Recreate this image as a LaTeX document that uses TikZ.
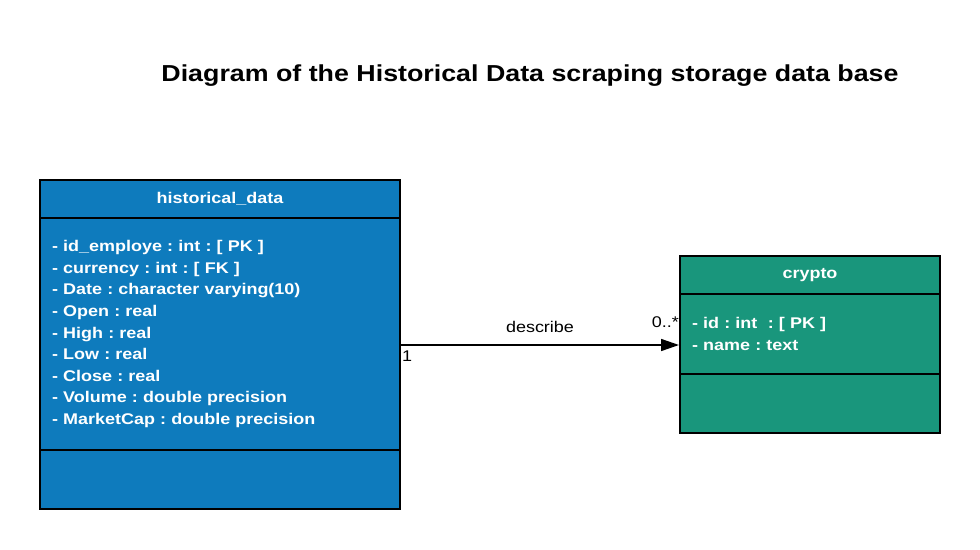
\documentclass[tikz,border=0pt]{standalone}
\usepackage{fontspec}
\setmainfont{Liberation Sans}[FakeStretch=1.16]
\usetikzlibrary{arrows.meta}
\frenchspacing
\definecolor{tblblue}{RGB}{14,123,189}
\definecolor{tblgreen}{RGB}{25,150,124}
\tikzstyle{cell} = [draw=black, line width=2pt, rectangle, inner sep=0pt, text=white, font={\bfseries\fontsize{15.5}{21.6}\selectfont}]
\tikzstyle{head} = [cell, minimum height=38pt]
\tikzstyle{attrs} = [cell, align=left, inner xsep=12pt]
\tikzstyle{lbl} = [font={\fontsize{15.5}{18}\selectfont}, inner sep=1pt]

\begin{document}
\begin{tikzpicture}[x=1pt,y=-1pt]
        \fill[white](0,0) rectangle (980,549);
        \node[font={\bfseries\fontsize{23.1}{28}\selectfont}](title) at (530,76){Diagram of the Historical Data scraping storage data base};
        % historical_data table
        \node[head,fill=tblblue,minimum width=360pt](hd_head) at (220,199){historical\_data};
        \node[attrs,fill=tblblue,text width=336pt,minimum height=232pt](hd_attrs) at (220,334){- id\_employe : int : [ PK ]\\- currency : int : [ FK ]\\- Date : character varying(10)\\- Open : real\\- High : real\\- Low : real\\- Close : real\\- Volume : double precision\\- MarketCap : double precision};
        \node[cell,fill=tblblue,minimum width=360pt,minimum height=59pt](hd_ops) at (220,479.5){};
        % crypto table
        \node[head,fill=tblgreen,minimum width=260pt](cr_head) at (810,275){crypto};
        \node[attrs,fill=tblgreen,text width=236pt,minimum height=80pt](cr_attrs) at (810,334){- id : int\ \ : [ PK ]\\- name : text};
        \node[cell,fill=tblgreen,minimum width=260pt,minimum height=59pt](cr_ops) at (810,403.5){};
        \draw[line width=1.5pt,-{Triangle[length=18pt,width=12pt]}]([yshift=-11pt]hd_attrs.east)--([yshift=-11pt]cr_attrs.west);
        \node[lbl](rel) at (540,327){describe};
        \node[lbl,anchor=east](m_to) at (680,322){0..*};
        \node[lbl,anchor=west](m_from) at (401,356){1};
      \end{tikzpicture}
\end{document}
